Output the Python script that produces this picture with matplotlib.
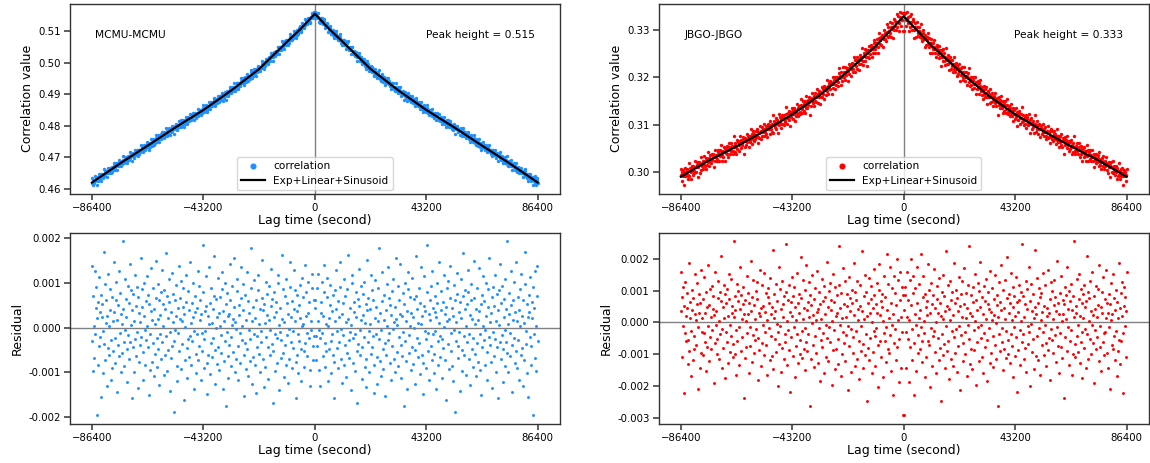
import numpy as np
import matplotlib.pyplot as plt

# lag grid (one half, the autocorrelation is symmetric in lag)
half_lag = np.linspace(0, 86400, 450)

# fitted curve (Exp+Linear+Sinusoid) at |lag|
fit_lag = [0, 5400, 10800, 21600, 32400, 43200, 54000, 64800, 75600, 86400]
mcmu_fit = [0.5155, 0.5108, 0.5066, 0.4980, 0.4912, 0.4850, 0.4795, 0.4737, 0.4680, 0.4620]
jbgo_fit = [0.3328, 0.3297, 0.3266, 0.3213, 0.3163, 0.3122, 0.3087, 0.3055, 0.3025, 0.2991]

# residuals, units of 1e-5, one value per half_lag
mcmu_res = [
    45, 62, -18, -73, -40, 88, 121, 15, -6, -95, -130, -22, 57, 34, 102,
    -11, -64, 27, 79, 140, -35, -87, -52, 9, 68, 112, 3, -119, -48, 21,
    96, 50, -29, -101, -14, 37, 73, -60, -158, -77, 16, 84, 129, 41, -8,
    -45, -91, 60, 25, -33, 147, 92, -2, -70, -123, 30, 55, -17, -84, 108,
    71, -38, 12, -110, -56, 86, 163, 19, -27, -67, 44, -9, -140, 6, 99,
    118, -24, -79, 35, 58, -97, -13, 81, 24, -51, -168, -36, 65, 132, 48,
    -5, -62, 17, 94, -44, -115, 29, 76, 103, -20, -88, 11, 53, -132, -71,
    39, 152, 67, -31, -7, -99, 43, 8, -58, 117, 85, -42, -19, 61, -145,
    -83, 22, 106, -15, 47, -66, -127, 14, 90, 178, -25, -75, 32, -4, -107,
    59, 125, -47, -92, 18, 74, -35, -152, -61, 40, 97, 5, -28, 137, 66,
    -12, -80, 51, 28, -118, -41, 83, 110, -3, -69, 13, -99, 46, 157, 20,
    -54, 7, 93, -86, -21, 62, 143, 31, -39, -113, -64, 26, 78, -10, -175,
    52, 99, -30, 16, -74, -136, 38, 87, 124, -16, -57, 4, 69, -95, 33,
    111, -43, -81, 23, 64, -1, -125, -49, 72, 160, 42, -23, -66, 10, 89,
    -34, -104, 56, 135, 9, -60, 27, -148, -78, 48, 115, -7, 37, -89, -26,
    80, 186, -12, -53, 30, -116, 63, 18, -41, 94, 126, -72, -15, 45, -102,
    -59, 35, 71, -8, -137, 24, 100, 55, -30, -83, 11, 146, -19, -65, 39,
    82, -26, -112, -46, 58, 119, 2, -73, 31, -162, 47, 88, 15, -37, 104,
    -93, 20, 67, 139, -52, -11, 44, -85, -120, 26, 95, -4, 61, -189, -29,
    13, 75, 123, -40, -68, 36, -9, -141, 57, 108, 22, -49, -96, 70, 168,
    -18, -60, 41, 85, -105, 3, 52, -32, 130, 79, -71, -14, 28, -128, 63,
    98, -47, 19, -87, -22, 150, 66, 8, -59, -109, 43, 90, -35, 17, -76,
    133, 37, -13, -94, 54, -150, -42, 73, 116, 4, -28, 60, -83, -6, 101,
    27, -118, -55, 46, 87, -20, 155, -39, 12, -77, 32, -135, 68, 92, -9,
    -64, 49, -25, 118, 15, -98, -44, 76, 39, -158, 6, 84, 142, -31, -70,
    55, -16, 94, -122, -48, 23, 65, -5, 109, -86, -33, 42, 193, -57, 8,
    -100, 30, 77, -12, -64, 127, 50, -39, -143, 18, 61, 103, -23, -80, 35,
    147, -51, 14, -91, 69, -27, -116, 40, 86, 3, -61, 121, -45, 27, -131,
    63, 11, -73, 97, 170, -36, -8, -102, 52, 25, -155, 74, 36, -21, 113,
    -40, -84, 58, 21, -196, 91, 44, -13, 128, -67, 5, -97, 71, 139, -30,
]
jbgo_res = [
    40, -293, 85, 112, -30, -145, 18, 160, 71, -52, -188, 9, 134, -77, 201,
    56, -118, -21, 93, 147, -64, -230, 27, 108, -9, -152, 62, 176, -40, -97,
    14, 120, -83, 38, 216, -14, -126, -60, 79, 145, -35, 5, -171, 90, 47,
    -108, 66, 22, -58, 183, 101, -72, -205, 31, 124, -17, 58, -139, -44, 87,
    168, -26, -93, 45, 2, -161, 73, 114, -50, 29, -118, 139, 60, -81, -247,
    19, 95, -37, 150, -104, 11, 82, -68, -143, 36, 225, -12, -89, 53, 117,
    -59, -180, 42, 8, 132, -115, 69, -28, 97, -136, 24, 186, -45, -98, 61,
    103, -20, -157, 76, 35, -74, 143, -11, -212, 51, 88, -41, 16, 129, -122,
    -66, 58, 171, -31, -100, 13, 92, -168, 45, -7, 118, 240, -53, -131, 30,
    85, -84, 21, -146, 110, 64, -25, -87, 153, 3, -196, 71, 38, -62, 125,
    -15, 99, -123, 50, 191, -48, -9, -109, 80, 26, -160, 116, -33, 67, -78,
    137, 12, -56, -186, 59, 96, -19, 43, -129, 162, 32, -95, 8, 109, -43,
    -141, 74, 23, -70, 148, -2, -114, 55, 87, -263, 18, 127, -38, 63, -91,
    39, 180, -62, -17, 102, -150, 46, -83, 10, 135, -27, -111, 77, 205, -54,
    -99, 28, 91, -128, 60, -36, 157, 7, -75, -173, 49, 113, -14, 82, -107,
    20, 143, -46, 65, -221, 34, -88, 119, 72, -23, -134, 4, 96, 248, -61,
    -37, 84, -117, 16, 57, -80, 130, -156, 41, 105, -10, -67, 176, -29, -199,
    68, -4, 121, -93, 37, -53, 89, 15, -147, 228, 48, -106, 25, -42, 140,
    -120, 61, -18, 107, 79, -167, 6, 92, -71, 33, -31, 155, -102, 52, -8,
    117, -64, -138, 44, 19, 166, -86, 29, -48, -181, 73, 126, -22, 100, -57,
    11, -95, 54, 133, -40, 81, -125, 36, 195, -16, -73, 62, -159, 27, 94,
    -34, 147, -78, 3, -112, 69, 25, -237, 58, 112, -47, 10, 86, -90, 174,
    43, -13, -133, 98, 66, -58, 122, -24, -165, 39, 83, -101, 17, 255, -69,
    -110, 52, 30, -44, 138, -8, -92, 75, 151, -127, 21, -63, 104, -30, 60,
    -176, 90, 14, 118, -82, 47, -20, -144, 67, 209, -37, 95, -116, 5, 78,
    131, -51, -99, 35, -7, 159, -66, 22, -190, 84, 41, -24, 114, -85, 18,
    -46, 106, 56, -122, 182, -11, -77, 48, -153, 97, 28, -62, 142, -35, -103,
    74, -29, 13, 166, -96, 62, -145, 31, 89, -16, -210, 57, 123, 8, -72,
    26, 152, -84, -43, 76, -119, 40, 101, -26, -170, 65, 15, -91, 187, -55,
    -130, 46, 94, -60, 20, 128, -35, -223, 53, 110, -12, 79, -108, 37, 159,
]

panels = [
    ("MCMU-MCMU", mcmu_fit, mcmu_res, "dodgerblue", [0.46, 0.47, 0.48, 0.49, 0.50, 0.51]),
    ("JBGO-JBGO", jbgo_fit, jbgo_res, "red", [0.30, 0.31, 0.32, 0.33]),
]
xticks = [-86400, -43200, 0, 43200, 86400]

SPINE = "#333333"
plt.rcParams["font.family"] = "DejaVu Sans"
plt.rcParams["axes.edgecolor"] = SPINE
plt.rcParams["xtick.color"] = SPINE
plt.rcParams["ytick.color"] = SPINE
plt.rcParams["xtick.labelcolor"] = "black"
plt.rcParams["ytick.labelcolor"] = "black"


def style(ax):
    ax.tick_params(axis="both", which="major", labelsize=7.3, length=4.5, width=1.1, pad=2)
    ax.set_xticks(xticks)
    ax.set_xlabel("Lag time (second)", fontsize=9, labelpad=1)
    for s in ax.spines.values():
        s.set_linewidth(1.0)


def main():
    fig = plt.figure(figsize=(11.5, 4.63), dpi=100)
    lefts = [0.0606, 0.5727]
    for i, (name, fit, res, color, yticks) in enumerate(panels):
        lag = np.concatenate([-half_lag[:0:-1], half_lag])
        r = np.array(res, dtype=float) * 1e-5
        r = np.concatenate([r[:0:-1], r])
        fl = np.concatenate([-np.array(fit_lag[:0:-1]), fit_lag])
        fv = np.concatenate([fit[:0:-1], fit])
        corr = np.interp(lag, fl, fv) + r

        ax = fig.add_axes([lefts[i], 0.581, 0.4264, 0.411])
        ax.axvline(0, color="gray", lw=1, zorder=1)
        ax.scatter(lag, corr, s=6, color=color, linewidths=0, label="correlation", zorder=2)
        ax.plot(fl, fv, color="black", lw=1.6, label="Exp+Linear+Sinusoid", zorder=3)
        ax.set_yticks(yticks)
        ax.set_ylabel("Correlation value", fontsize=9, labelpad=3)
        ax.text(0.052, 0.835, name, transform=ax.transAxes, fontsize=7.7, va="center")
        ax.text(0.948, 0.835, f"Peak height = {max(fit):.3f}", transform=ax.transAxes,
                fontsize=7.7, va="center", ha="right")
        ax.legend(loc="lower center", fontsize=7.6, markerscale=1.8, handlelength=2.2,
                  borderaxespad=0.35, handletextpad=0.8)
        style(ax)

        ax2 = fig.add_axes([lefts[i], 0.0842, 0.4264, 0.413])
        ax2.axhline(0, color="gray", lw=1, zorder=1)
        ax2.scatter(lag, r, s=4.5, color=color, linewidths=0, zorder=2)
        ax2.set_yticks(np.arange(-0.003, 0.0025, 0.001))
        ax2.yaxis.set_major_formatter(plt.FormatStrFormatter("%.3f"))
        lo, hi = r.min(), r.max()
        pad = 0.05 * (hi - lo)
        ax2.set_ylim(lo - pad, hi + pad)
        ax2.set_ylabel("Residual", fontsize=9, labelpad=3)
        style(ax2)

    fig.savefig("out.png", dpi=100)


if __name__ == "__main__":
    main()
